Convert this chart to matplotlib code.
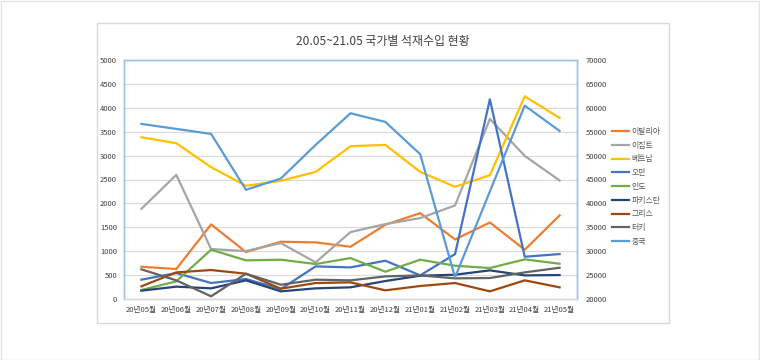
import matplotlib
matplotlib.use('Agg')
import matplotlib.pyplot as plt
from matplotlib.patches import Rectangle
from matplotlib.lines import Line2D

plt.rcParams['font.family'] = ['Noto Sans CJK KR', 'DejaVu Sans']

# 월별 구분
months = ['20년05월', '20년06월', '20년07월', '20년08월', '20년09월', '20년10월', '20년11월',
          '20년12월', '21년01월', '21년02월', '21년03월', '21년04월', '21년05월']

# 국가별 수입량 (왼쪽 축)
italy    = [675, 627, 1560, 982, 1198, 1184, 1093, 1553, 1796, 1246, 1601, 1031, 1748]
egypt    = [1887, 2597, 1044, 1003, 1170, 766, 1400, 1567, 1692, 1957, 3767, 2994, 2479]
vietnam  = [3384, 3259, 2757, 2367, 2472, 2660, 3196, 3224, 2660, 2347, 2590, 4241, 3788]
oman     = [404, 543, 334, 418, 209, 682, 661, 801, 494, 940, 4178, 884, 940]
india    = [188, 369, 1031, 808, 822, 731, 856, 571, 822, 696, 648, 829, 738]
pakistan = [174, 258, 223, 390, 160, 223, 244, 376, 487, 508, 599, 494, 501]
greece   = [265, 557, 606, 529, 216, 334, 348, 181, 272, 334, 160, 390, 244]
turkey   = [620, 390, 56, 529, 299, 404, 390, 473, 494, 432, 439, 557, 654]
# 중국 (오른쪽 축)
china    = [56630, 55585, 54540, 42841, 45209, 52242, 58858, 57047, 50292, 24526, 42500, 60460, 55167]

left_series = [
    ('이탈리아', italy, '#ED7D31'),
    ('이집트', egypt, '#A5A5A5'),
    ('베트남', vietnam, '#FFC000'),
    ('오만', oman, '#4472C4'),
    ('인도', india, '#70AD47'),
    ('파키스탄', pakistan, '#264478'),
    ('그리스', greece, '#9E480E'),
    ('터키', turkey, '#636363'),
]

fig = plt.figure(figsize=(7.6, 3.6), dpi=100)
W, H = 760, 360

# 바깥 테두리와 차트 영역 테두리
fig.patches.append(Rectangle((0.5 / W, 0.5 / H), 1 - 1.5 / W, 1 - 1.5 / H, transform=fig.transFigure,
                             fill=False, edgecolor='#e3e3e3', linewidth=1))
fig.patches.append(Rectangle((97 / W, 1 - 323 / H), (669 - 97) / W, (323 - 23) / H,
                             transform=fig.transFigure, fill=False, edgecolor='#d9d9d9', linewidth=1))

ax = fig.add_axes([124 / W, 1 - 299 / H, (577 - 124) / W, (299 - 60) / H])
ax2 = ax.twinx()

x = list(range(len(months)))
handles = []
for name, vals, col in left_series:
    ax.plot(x, vals, color=col, linewidth=1.6, solid_joinstyle='round')
    handles.append(Line2D([], [], color=col, linewidth=1.6, label=name))
ax2.plot(x, china, color='#5B9BD5', linewidth=1.6, solid_joinstyle='round')
handles.append(Line2D([], [], color='#5B9BD5', linewidth=1.6, label='중국'))

ax.set_xlim(-0.5, 12.5)
ax.set_ylim(0, 5000)
ax.set_yticks(range(0, 5001, 500))
ax2.set_ylim(20000, 70000)
ax2.set_yticks(range(20000, 70001, 5000))
ax.set_xticks(x)
ax.set_xticklabels(months)

ax.grid(axis='y', color='#d9d9d9', linewidth=0.8)
ax.set_axisbelow(True)
for a in (ax, ax2):
    a.tick_params(length=0, labelsize=5.5, labelcolor='#404040')
    for s in a.spines.values():
        s.set_color('#9DC3E6')
        s.set_linewidth(1)
    a.spines['bottom'].set_color('#d9d9d9')
ax.tick_params(axis='y', pad=5)
ax2.tick_params(axis='y', pad=6)
ax.tick_params(axis='x', pad=5)

fig.text(383 / W, 1 - 42 / H, '20.05~21.05 국가별 석재수입 현황', ha='center', va='center',
         fontsize=8.6, color='#404040')

fig.legend(handles=handles, loc='upper left', bbox_to_anchor=(608 / W, 1 - 123 / H),
           frameon=False, fontsize=5.7, labelcolor='#595959', handlelength=2.2,
           handletextpad=0.3, labelspacing=0.6, borderpad=0)

fig.savefig('out.png', dpi=100)
